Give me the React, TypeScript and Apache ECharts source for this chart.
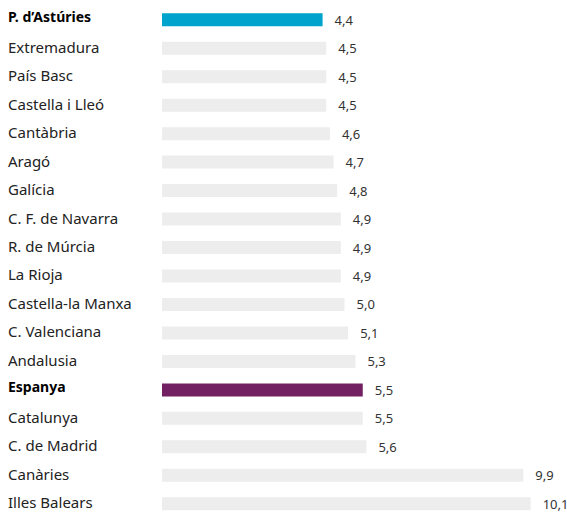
import React, { useEffect, useRef } from "react";
import * as echarts from "echarts";

const categories = [
  "P. d’Astúries",
  "Extremadura",
  "País Basc",
  "Castella i Lleó",
  "Cantàbria",
  "Aragó",
  "Galícia",
  "C. F. de Navarra",
  "R. de Múrcia",
  "La Rioja",
  "Castella-la Manxa",
  "C. Valenciana",
  "Andalusia",
  "Espanya",
  "Catalunya",
  "C. de Madrid",
  "Canàries",
  "Illes Balears",
];

const values = [4.4, 4.5, 4.5, 4.5, 4.6, 4.7, 4.8, 4.9, 4.9, 4.9, 5.0, 5.1, 5.3, 5.5, 5.5, 5.6, 9.9, 10.1];

const highlighted: Record<string, string> = {
  "P. d’Astúries": "#00a3cc",
  Espanya: "#722061",
};

export default function App() {
  const ref = useRef<HTMLDivElement>(null);
  useEffect(() => {
    if (!ref.current) return;
    const chart = echarts.init(ref.current, undefined, { renderer: "svg" });
    chart.setOption({
      animation: false,
      grid: { left: 162, top: 5.5, width: 401.5, height: 516, containLabel: false },
      xAxis: {
        type: "value",
        min: 0,
        max: 11,
        show: false,
      },
      yAxis: {
        type: "category",
        data: categories,
        inverse: true,
        axisLine: { show: false },
        axisTick: { show: false },
        splitLine: { show: false },
        axisLabel: {
          align: "left",
          margin: 154,
          fontFamily: "Noto Sans",
          fontSize: 15,
          color: "#222",
          padding: [0, 0, 3, 0],
          formatter: (v: string) => (highlighted[v] ? `{b|${v}}` : v),
          rich: {
            b: { fontWeight: "bold", fontFamily: "Noto Sans", fontSize: 14, color: "#000", padding: [0, 0, 3, 0] },
          },
        },
      },
      series: [
        {
          type: "bar",
          data: values.map((v, i) => ({
            value: v,
            itemStyle: { color: highlighted[categories[i]] || "#ecedec" },
          })),
          barWidth: 13,
          label: {
            show: true,
            position: "right",
            distance: 12,
            fontFamily: "Noto Sans",
            fontSize: 13,
            color: "#333",
            formatter: (p: any) => p.value.toFixed(1).replace(".", ","),
          },
        },
      ],
    });
    return () => chart.dispose();
  }, []);
  return (
    <div
      ref={ref}
      style={{ position: "absolute", left: 0, top: 0, width: 567, height: 518, background: "#fff" }}
    />
  );
}
